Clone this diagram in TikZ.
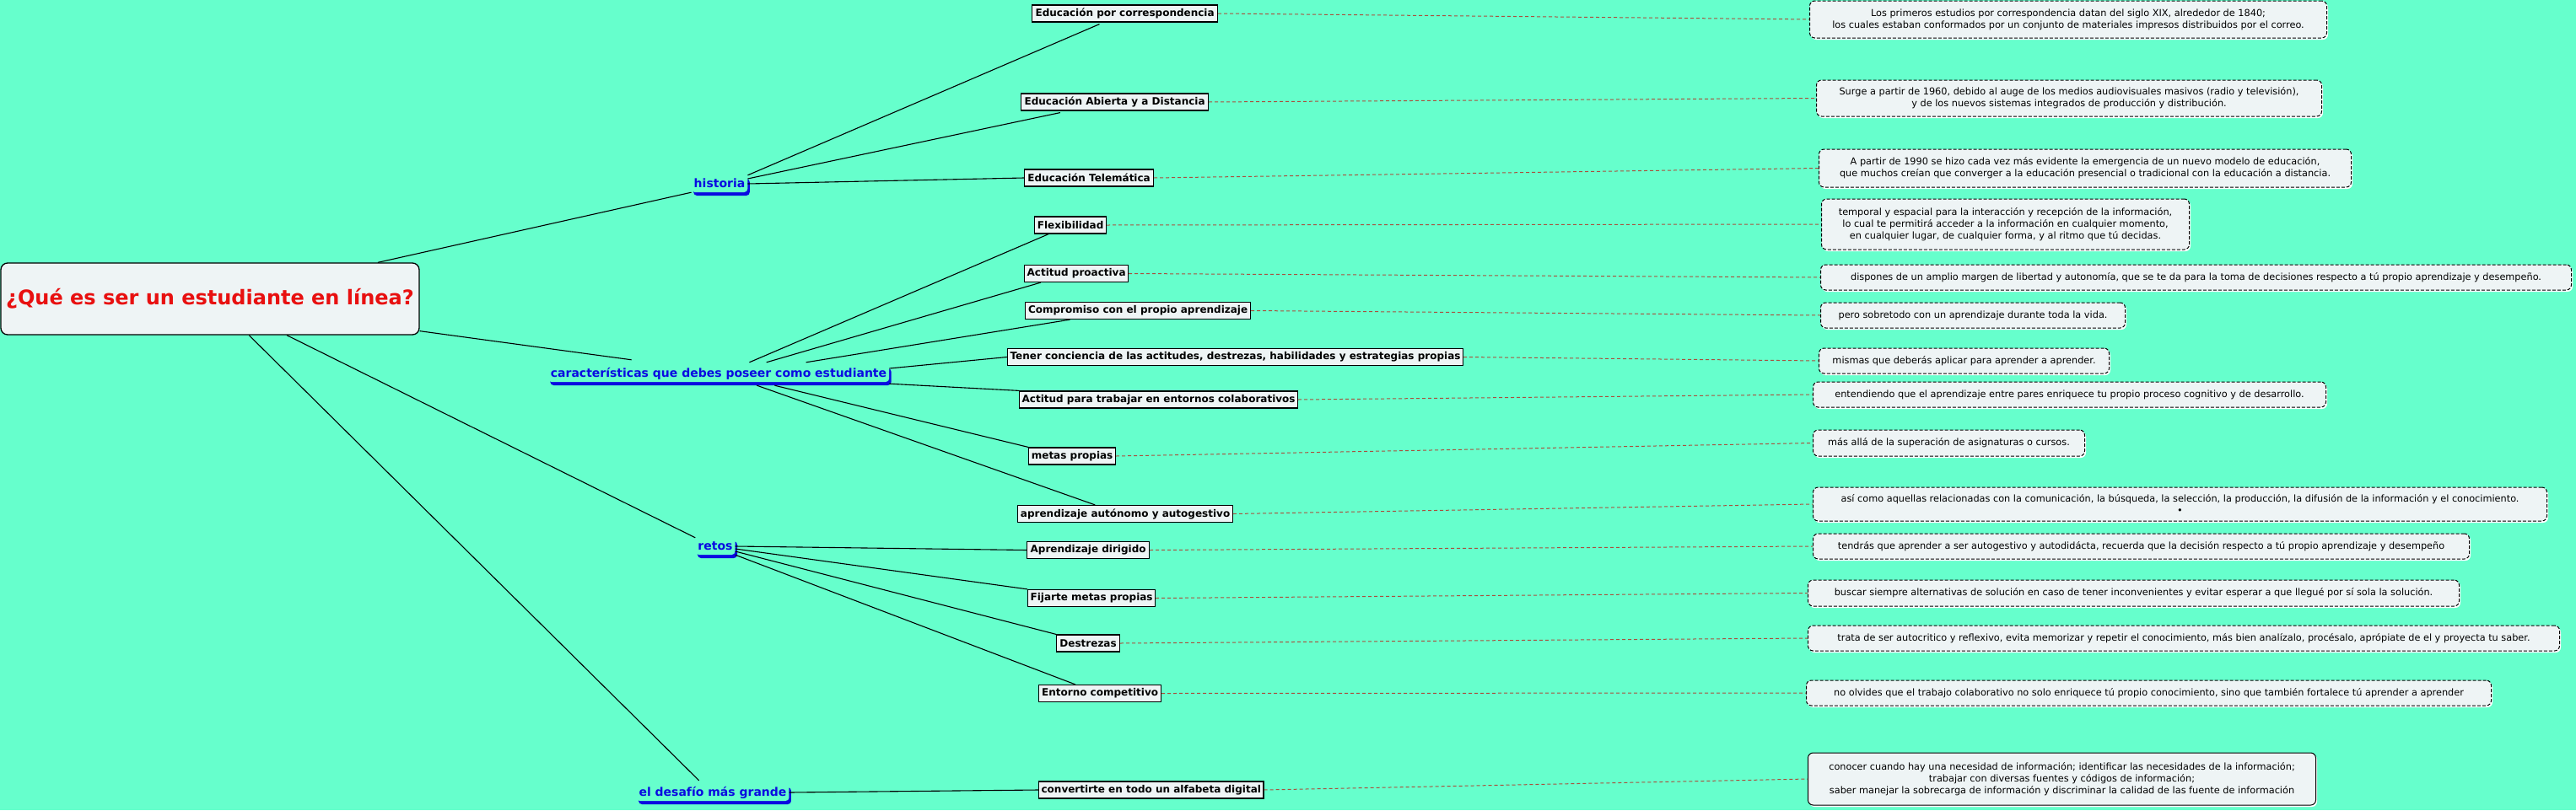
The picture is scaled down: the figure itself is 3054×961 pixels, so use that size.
\documentclass[tikz,border=0pt]{standalone}
\usepackage{fontspec}
\setmainfont{DejaVu Sans}
\usetikzlibrary{shadows,calc}
\definecolor{bg}{RGB}{102,255,204}
\definecolor{boxfill}{RGB}{238,244,245}
\definecolor{titlered}{RGB}{232,16,16}
\definecolor{brblue}{RGB}{10,10,225}
\definecolor{dashcol}{RGB}{170,80,60}
\begin{document}
\begin{tikzpicture}[x=1pt,y=-1pt,
  mainbox/.style={draw=black, line width=1.3pt, fill=boxfill, rounded corners=8pt, minimum width=496pt, minimum height=85pt, font=\fontsize{24}{28}\selectfont\bfseries, text=titlered},
  branch/.style={fill=bg, rounded corners=4pt, text=brblue, font=\fontsize{14}{16}\selectfont\bfseries, inner xsep=3pt, inner ysep=3pt, text height=11pt, text depth=3pt, general shadow={fill=brblue, shadow xshift=2.5pt, shadow yshift=-4pt}},
  topic/.style={draw=black, line width=1.2pt, fill=boxfill, anchor=west, minimum height=20pt, inner xsep=3pt, inner ysep=2pt, font=\fontsize{12}{14}\selectfont\bfseries},
  note/.style={draw=black, dash pattern=on 4pt off 2pt, line width=1pt, fill=boxfill, rounded corners=6pt, anchor=west, align=center, inner xsep=4pt, inner ysep=3pt, font=\fontsize{11.3}{14}\selectfont, general shadow={fill=white, shadow xshift=1.5pt, shadow yshift=-2pt}},
  solidnote/.style={note, solid},
  conn/.style={draw=black, line width=1.1pt},
  dconn/.style={draw=dashcol, line width=1pt, dash pattern=on 4pt off 3pt},
]
\useasboundingbox (0,0) rectangle (3054,961);
\fill[bg] (0,0) rectangle (3054,961);

\node[mainbox] (main) at (249,354.5) {¿Qué es ser un estudiante en línea?};

\node[branch] (hist) at (853,218) {historia};
\node[branch] (car) at (852,443) {características que debes poseer como estudiante};
\node[branch] (retos) at (848,648) {retos};
\node[branch] (des) at (845,940) {el desafío más grande};

\node[topic, minimum width=220pt] (t1) at (1223,16) {Educación por correspondencia};
\node[topic, minimum width=222pt] (t2) at (1210,121) {Educación Abierta y a Distancia};
\node[topic, minimum width=153pt] (t3) at (1214,211) {Educación Telemática};
\node[topic, minimum width=85pt] (t4) at (1226,267) {Flexibilidad};
\node[topic, minimum width=123pt] (t5) at (1214,324.5) {Actitud proactiva};
\node[topic, minimum width=267pt] (t6) at (1215,368.5) {Compromiso con el propio aprendizaje};
\node[topic, minimum width=538pt] (t7) at (1194,423.5) {Tener conciencia de las actitudes, destrezas, habilidades y estrategias propias};
\node[topic, minimum width=330pt] (t8) at (1208,474) {Actitud para trabajar en entornos colaborativos};
\node[topic, minimum width=103pt] (t9) at (1219,541) {metas propias};
\node[topic, minimum width=255pt] (t10) at (1206,609.5) {aprendizaje autónomo y autogestivo};
\node[topic, minimum width=145pt] (t11) at (1217,652.5) {Aprendizaje dirigido};
\node[topic, minimum width=151pt] (t12) at (1218,709.5) {Fijarte metas propias};
\node[topic, minimum width=75pt] (t13) at (1252,763) {Destrezas};
\node[topic, minimum width=145pt] (t14) at (1231,822.5) {Entorno competitivo};
\node[topic, minimum width=265pt] (t15) at (1231,937) {convertirte en todo un alfabeta digital};

\node[note, minimum width=613pt, minimum height=44pt] (n1) at (2145,23) {Los primeros estudios por correspondencia datan del siglo XIX, alrededor de 1840;\\los cuales estaban conformados por un conjunto de materiales impresos distribuidos por el correo.};
\node[note, minimum width=599pt, minimum height=43pt] (n2) at (2153,116.5) {Surge a partir de 1960, debido al auge de los medios audiovisuales masivos (radio y televisión),\\y de los nuevos sistemas integrados de producción y distribución.};
\node[note, minimum width=631pt, minimum height=45pt] (n3) at (2156,199.5) {A partir de 1990 se hizo cada vez más evidente la emergencia de un nuevo modelo de educación,\\que muchos creían que converger a la educación presencial o tradicional con la educación a distancia.};
\node[note, minimum width=436pt, minimum height=60pt] (n4) at (2159,266) {temporal y espacial para la interacción y recepción de la información,\\lo cual te permitirá acceder a la información en cualquier momento,\\en cualquier lugar, de cualquier forma, y al ritmo que tú decidas.};
\node[note, minimum width=890pt, minimum height=30pt] (n5) at (2158,329) {dispones de un amplio margen de libertad y autonomía, que se te da para la toma de decisiones respecto a tú propio aprendizaje y desempeño.};
\node[note, minimum width=361pt, minimum height=30pt] (n6) at (2158,374) {pero sobretodo con un aprendizaje durante toda la vida.};
\node[note, minimum width=344pt, minimum height=30pt] (n7) at (2156,428) {mismas que deberás aplicar para aprender a aprender.};
\node[note, minimum width=608pt, minimum height=30pt] (n8) at (2149,468) {entendiendo que el aprendizaje entre pares enriquece tu propio proceso cognitivo y de desarrollo.};
\node[note, minimum width=322pt, minimum height=31pt] (n9) at (2149,525.5) {más allá de la superación de asignaturas o cursos.};
\node[note, minimum width=870pt, minimum height=40pt] (n10) at (2149,598) {así como aquellas relacionadas con la comunicación, la búsqueda, la selección, la producción, la difusión de la información y el conocimiento.\\•};
\node[note, minimum width=778pt, minimum height=30pt] (n11) at (2149,648) {tendrás que aprender a ser autogestivo y autodidácta, recuerda que la decisión respecto a tú propio aprendizaje y desempeño};
\node[note, minimum width=772pt, minimum height=31pt] (n12) at (2143,703.5) {buscar siempre alternativas de solución en caso de tener inconvenientes y evitar esperar a que llegué por sí sola la solución.};
\node[note, minimum width=891pt, minimum height=30pt] (n13) at (2143,757) {trata de ser autocritico y reflexivo, evita memorizar y repetir el conocimiento, más bien analízalo, procésalo, aprópiate de el y proyecta tu saber.};
\node[note, minimum width=812pt, minimum height=30pt] (n14) at (2141,822) {no olvides que el trabajo colaborativo no solo enriquece tú propio conocimiento, sino que también fortalece tú aprender a aprender};
\node[solidnote, minimum width=602pt, minimum height=62pt] (n15) at (2143,924) {conocer cuando hay una necesidad de información; identificar las necesidades de la información;\\trabajar con diversas fuentes y códigos de información;\\saber manejar la sobrecarga de información y discriminar la calidad de las fuente de información};

% main to branches
\draw[conn] ($(main.north west)!0.9!(main.north east)$) -- (hist.south west);
\draw[conn] ($(main.south east)+(0,-5)$) -- ($(car.north west)+(99,-6)$);
\draw[conn] ($(main.south west)!0.683!(main.south east)$) -- (retos.north west);
\draw[conn] ($(main.south west)!0.593!(main.south east)$) -- ($(des.north west)!0.41!(des.north east)+(0,-4)$);

% historia
\draw[conn] (hist.north east) -- ($(t1.south west)!0.364!(t1.south east)+(0,2)$);
\draw[conn] ($(hist.east)+(0,-6)$) -- ($(t2.south west)!0.21!(t2.south east)+(0,2)$);
\draw[conn] (hist.east) -- (t3.west);

% caracteristicas
\draw[conn] ($(car.north west)!0.59!(car.north east)+(0,-3)$) -- ($(t4.south west)!0.2!(t4.south east)$);
\draw[conn] ($(car.north west)!0.64!(car.north east)+(0,-3)$) -- ($(t5.south west)!0.16!(t5.south east)$);
\draw[conn] ($(car.north west)!0.756!(car.north east)+(0,-3)$) -- ($(t6.south west)!0.2!(t6.south east)$);
\draw[conn] ($(car.east)+(0,-6)$) -- (t7.west);
\draw[conn] ($(car.south east)+(0,2)$) -- (t8.north west);
\draw[conn] ($(car.south west)!0.664!(car.south east)+(0,4)$) -- (t9.north west);
\draw[conn] ($(car.south west)!0.612!(car.south east)+(0,4)$) -- ($(t10.north west)!0.36!(t10.north east)$);

% retos
\draw[conn] (retos.east) -- (t11.west);
\draw[conn] ($(retos.east)+(0,3)$) -- (t12.north west);
\draw[conn] ($(retos.east)+(0,6)$) -- (t13.north west);
\draw[conn] (retos.south east) -- ($(t14.north west)!0.3!(t14.north east)$);

% desafio
\draw[conn] (des.east) -- (t15.west);

% dashed links
\foreach \i in {1,...,15} {
  \draw[dconn] (t\i.east) -- (n\i.west);
}
\end{tikzpicture}
\end{document}
